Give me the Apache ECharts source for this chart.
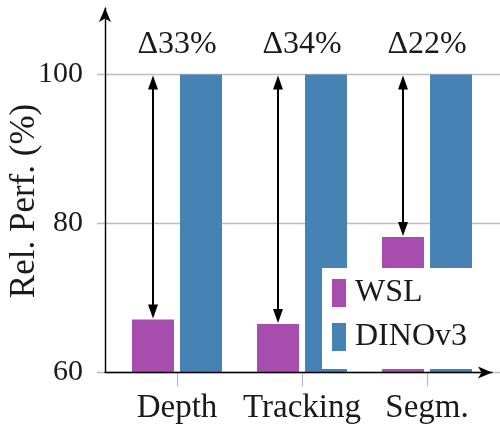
<!DOCTYPE html>
<html>
<head>
<meta charset="utf-8">
<script src="https://cdn.jsdelivr.net/npm/echarts@6/dist/echarts.min.js"></script>
<style>
  html, body { margin: 0; padding: 0; background: #fff; }
  #chart { width: 500px; height: 438px; }
</style>
</head>
<body>
<div id="chart"></div>
<script>
const categories = ['Depth', 'Tracking', 'Segm.']
const wsl = [67.1, 66.5, 78.2]
const dinov3 = [100, 100, 100]
const deltaLabels = ['Δ33%', 'Δ34%', 'Δ22%']

const font = 'Liberation Serif'
const barW = 42
const barGapPx = 6

const chart = echarts.init(document.getElementById('chart'))

// grid 0: black axis lines with arrows, grid 1: gridlines + y labels, grid 2: bars
chart.setOption({
  animation: false,
  textStyle: { fontFamily: font },
  grid: [
    { left: 105, right: 8, top: 8, bottom: 65.5 },
    { left: 97, right: 0, top: 74.5, bottom: 65.5 },
    { left: 114.5, right: 10.5, top: 74.5, bottom: 65.5 }
  ],
  xAxis: [
    {
      gridIndex: 0, type: 'value', min: 0, max: 1, z: 10,
      axisLine: { symbol: ['none', 'arrow'], symbolSize: [9, 14], lineStyle: { color: '#000', width: 1.4 } },
      axisTick: { show: false }, axisLabel: { show: false }, splitLine: { show: false }
    },
    { gridIndex: 1, type: 'value', min: 0, max: 1, show: false },
    {
      gridIndex: 2, type: 'category', data: categories,
      axisLine: { show: false },
      axisTick: { show: true, alignWithLabel: true, length: 14, lineStyle: { color: '#bbb', width: 1.2 } },
      axisLabel: { interval: 0, margin: 19, fontSize: 33, color: '#1a1a1a', fontFamily: font }
    }
  ],
  yAxis: [
    {
      gridIndex: 0, type: 'value', min: 0, max: 1, z: 10,
      axisLine: { show: true, symbol: ['none', 'arrow'], symbolSize: [9, 14], lineStyle: { color: '#000', width: 1.4 } },
      axisTick: { show: false }, axisLabel: { show: false }, splitLine: { show: false }
    },
    {
      gridIndex: 1, type: 'value', min: 60, max: 100, interval: 20,
      axisLine: { show: false }, axisTick: { show: false },
      axisLabel: { margin: 14, fontSize: 30, color: '#1a1a1a', fontFamily: font },
      splitLine: { show: true, lineStyle: { color: '#bdbdbd', width: 1.3 } }
    },
    { gridIndex: 2, type: 'value', min: 60, max: 100, show: false }
  ],
  legend: {
    data: ['WSL', 'DINOv3'],
    orient: 'vertical',
    left: 322,
    top: 268,
    backgroundColor: '#fff',
    padding: [9, 32, 16, 10],
    itemWidth: 14,
    itemHeight: 28,
    itemGap: 12,
    icon: 'rect',
    textStyle: { fontSize: 32, color: '#1a1a1a', fontFamily: font, padding: [0, 0, 0, 4] }
  },
  graphic: [{
    type: 'text',
    x: 25,
    y: 201,
    rotation: Math.PI / 2,
    style: {
      text: 'Rel. Perf. (%)',
      font: '35px "' + font + '"',
      fill: '#1a1a1a',
      textAlign: 'center',
      textVerticalAlign: 'middle'
    }
  }],
  series: [
    {
      name: 'WSL', type: 'bar', xAxisIndex: 2, yAxisIndex: 2,
      data: wsl, barWidth: barW, barGap: (barGapPx / barW * 100) + '%',
      itemStyle: { color: '#a64dae' }
    },
    {
      name: 'DINOv3', type: 'bar', xAxisIndex: 2, yAxisIndex: 2,
      data: dinov3, barWidth: barW,
      itemStyle: { color: '#4682b4' }
    },
    {
      type: 'custom', xAxisIndex: 2, yAxisIndex: 2, z: 5,
      data: wsl.map((v, i) => [i, v, dinov3[i]]),
      renderItem(params, api) {
        const i = api.value(0)
        const lo = api.coord([i, api.value(1)])
        const hi = api.coord([i, api.value(2)])
        const x = lo[0] - (barW + barGapPx) / 2
        const head = 15
        const half = 5
        return {
          type: 'group',
          children: [
            {
              type: 'line',
              shape: { x1: x, y1: hi[1] + head - 1, x2: x, y2: lo[1] - head + 1 },
              style: { stroke: '#000', lineWidth: 2 }
            },
            {
              type: 'polygon',
              shape: { points: [[x, hi[1] + 1], [x - half, hi[1] + head], [x + half, hi[1] + head]] },
              style: { fill: '#000' }
            },
            {
              type: 'polygon',
              shape: { points: [[x, lo[1] - 1], [x - half, lo[1] - head], [x + half, lo[1] - head]] },
              style: { fill: '#000' }
            },
            {
              type: 'text',
              x: lo[0],
              y: hi[1] - 30,
              style: {
                text: deltaLabels[i],
                font: '32px "' + font + '"',
                fill: '#1a1a1a',
                textAlign: 'center',
                textVerticalAlign: 'middle'
              }
            }
          ]
        }
      }
    }
  ]
})
</script>
</body>
</html>
